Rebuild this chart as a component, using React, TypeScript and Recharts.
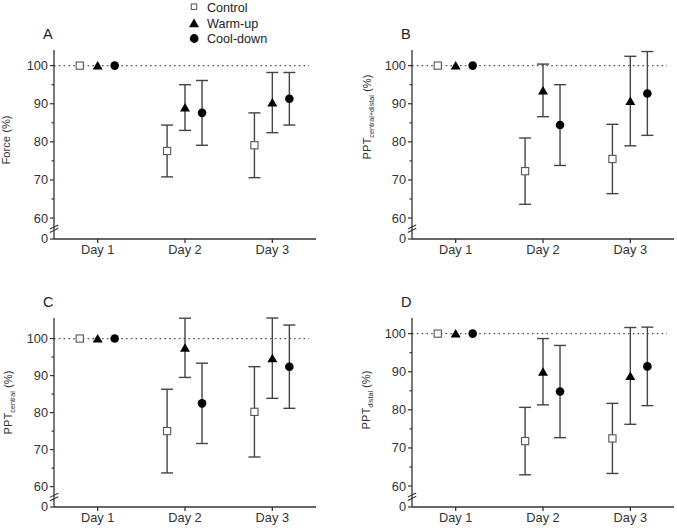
import React from 'react';
import { ScatterChart, Scatter, XAxis, YAxis, ErrorBar, ReferenceLine } from 'recharts';

// ---- categories & ticks ----
const days = [1, 2, 3];
const dayLabels = ['Day 1', 'Day 2', 'Day 3'];
const yTickValues = [54.5, 60, 65, 70, 75, 80, 85, 90, 95, 100];
const yTickLabels = ['0', '60', '', '70', '', '80', '', '90', '', '100'];
const seriesNames = ['Control', 'Warm-up', 'Cool-down'];

// ---- Panel A: Force (%) ----
const forceControl = [100, 77.6, 79.1];
const forceControlSd = [null, 6.8, 8.5];
const forceWarmup = [100, 89.0, 90.3];
const forceWarmupSd = [null, 6.0, 7.9];
const forceCooldown = [100, 87.6, 91.3];
const forceCooldownSd = [null, 8.5, 6.9];

// ---- Panel B: PPT central+distal (%) ----
const pptCdControl = [100, 72.3, 75.5];
const pptCdControlSd = [null, 8.7, 9.1];
const pptCdWarmup = [100, 93.5, 90.7];
const pptCdWarmupSd = [null, 6.9, 11.75];
const pptCdCooldown = [100, 84.4, 92.7];
const pptCdCooldownSd = [null, 10.6, 11.0];

// ---- Panel C: PPT central (%) ----
const pptCenControl = [100, 75.0, 80.2];
const pptCenControlSd = [null, 11.3, 12.2];
const pptCenWarmup = [100, 97.5, 94.7];
const pptCenWarmupSd = [null, 8.0, 10.85];
const pptCenCooldown = [100, 82.5, 92.4];
const pptCenCooldownSd = [null, 10.85, 11.25];

// ---- Panel D: PPT distal (%) ----
const pptDisControl = [100, 71.8, 72.5];
const pptDisControlSd = [null, 8.85, 9.2];
const pptDisWarmup = [100, 90.0, 88.9];
const pptDisWarmupSd = [null, 8.7, 12.7];
const pptDisCooldown = [100, 84.8, 91.4];
const pptDisCooldownSd = [null, 12.1, 10.3];

const FONT = '"Liberation Sans", Arial, sans-serif';
const AXIS = '#333';
const ERR = '#444';
const OFFSETS = [-0.205, 0, 0.195];
const TICK_SIZE = 4;
const TICK_MARGIN = 2;

const build = (means: number[], sds: (number | null)[], off: number) =>
  days.map((d, i) => ({ x: d + off, y: means[i], err: sds[i] }));

const SquareShape = (p: any) => (
  <rect x={p.cx - 3.6} y={p.cy - 3.6} width={7.2} height={7.2} fill="#fff" stroke="#555" strokeWidth={1.1} />
);
const TriShape = (p: any) => (
  <polygon points={`${p.cx},${p.cy - 4.5} ${p.cx + 5},${p.cy + 4} ${p.cx - 5},${p.cy + 4}`} fill="#000" />
);
const DotShape = (p: any) => <circle cx={p.cx} cy={p.cy} r={4.3} fill="#000" />;
const shapes = [SquareShape, TriShape, DotShape];

const YTick = (props: any) => {
  const { x, y, payload } = props;
  const idx = yTickValues.indexOf(payload.value);
  const label = yTickLabels[idx] ?? '';
  const axisX = x + TICK_MARGIN + TICK_SIZE;
  const len = label === '' ? 2.5 : TICK_SIZE;
  return (
    <g>
      <line x1={axisX - len} x2={axisX} y1={y} y2={y} stroke={AXIS} strokeWidth={1.2} />
      {label !== '' && (
        <text x={x} y={y} dy="0.35em" textAnchor="end" fontSize={12.8} fill="#333" fontFamily={FONT}>
          {label}
        </text>
      )}
    </g>
  );
};

type PanelProps = {
  left: number;
  top: number;
  letter: string;
  label: React.ReactNode;
  labelX: number;
  labelY: number;
  series: { means: number[]; sds: (number | null)[] }[];
};

const Panel = ({ left, top, letter, label, labelX, labelY, series }: PanelProps) => (
  <div style={{ position: 'absolute', left, top, width: 338, height: 265 }}>
    <ScatterChart width={338} height={265} margin={{ top: 50, right: 22, bottom: 0, left: 0 }}>
      <XAxis
        type="number"
        dataKey="x"
        domain={[() => 0.5, () => 3.5]}
        ticks={days}
        tickFormatter={(v: number) => dayLabels[Math.round(v) - 1] ?? ''}
        height={26}
        tickSize={TICK_SIZE}
        tickMargin={2}
        stroke={AXIS}
        strokeWidth={1.3}
        tick={{ fontSize: 12.8, fill: '#333', fontFamily: FONT }}
      />
      <YAxis
        type="number"
        dataKey="y"
        domain={[() => 54.5, () => 104.1]}
        ticks={yTickValues}
        interval={0}
        width={54}
        tickSize={TICK_SIZE}
        tickMargin={TICK_MARGIN}
        tickLine={false}
        stroke={AXIS}
        strokeWidth={1.3}
        tick={<YTick />}
      />
      <ReferenceLine
        segment={[{ x: 0.5, y: 100 }, { x: 3.42, y: 100 }]}
        stroke="#555"
        strokeWidth={1.3}
        strokeDasharray="1.6 3.2"
        ifOverflow="visible"
      />
      <ReferenceLine
        segment={[{ x: 0.452, y: 56.2 }, { x: 0.548, y: 57.3 }]}
        stroke={AXIS}
        strokeWidth={1.1}
        ifOverflow="visible"
      />
      <ReferenceLine
        segment={[{ x: 0.452, y: 57.1 }, { x: 0.548, y: 58.2 }]}
        stroke={AXIS}
        strokeWidth={1.1}
        ifOverflow="visible"
      />
      {series.map((s, k) => (
        <Scatter
          key={seriesNames[k]}
          name={seriesNames[k]}
          data={build(s.means, s.sds, OFFSETS[k])}
          shape={shapes[k]}
          isAnimationActive={false}
        >
          <ErrorBar dataKey="err" direction="y" width={6} stroke={ERR} strokeWidth={1.4} />
        </Scatter>
      ))}
    </ScatterChart>
    <svg width={338} height={265} style={{ position: 'absolute', left: 0, top: 0, pointerEvents: 'none' }}>
      <text x={43} y={39.3} fontSize={14.5} fill="#222" fontFamily={FONT}>
        {letter}
      </text>
      <text
        transform={`translate(${labelX},${labelY}) rotate(-90)`}
        textAnchor="middle"
        dy="0.35em"
        fontSize={11.2}
        fill="#333"
        fontFamily={FONT}
      >
        {label}
      </text>
    </svg>
  </div>
);

const Sub = ({ main, sub }: { main: string; sub: string }) => (
  <>
    <tspan>{main}</tspan>
    <tspan fontSize={7.2} dy="3">{sub}</tspan>
    <tspan dy="-3"> (%)</tspan>
  </>
);

export default function App() {
  return (
    <div style={{ position: 'absolute', left: 0, top: 0, width: 677, height: 530, overflow: 'hidden', background: '#fff' }}>
      <Panel
        left={0}
        top={0}
        letter="A"
        label="Force (%)"
        labelX={6.5}
        labelY={140}
        series={[
          { means: forceControl, sds: forceControlSd },
          { means: forceWarmup, sds: forceWarmupSd },
          { means: forceCooldown, sds: forceCooldownSd },
        ]}
      />
      <Panel
        left={358}
        top={0}
        letter="B"
        label={<Sub main="PPT" sub="central+distal" />}
        labelX={9.5}
        labelY={117}
        series={[
          { means: pptCdControl, sds: pptCdControlSd },
          { means: pptCdWarmup, sds: pptCdWarmupSd },
          { means: pptCdCooldown, sds: pptCdCooldownSd },
        ]}
      />
      <Panel
        left={0}
        top={268}
        letter="C"
        label={<Sub main="PPT" sub="central" />}
        labelX={8}
        labelY={134.5}
        series={[
          { means: pptCenControl, sds: pptCenControlSd },
          { means: pptCenWarmup, sds: pptCenWarmupSd },
          { means: pptCenCooldown, sds: pptCenCooldownSd },
        ]}
      />
      <Panel
        left={358}
        top={268}
        letter="D"
        label={<Sub main="PPT" sub="distal" />}
        labelX={8}
        labelY={132}
        series={[
          { means: pptDisControl, sds: pptDisControlSd },
          { means: pptDisWarmup, sds: pptDisWarmupSd },
          { means: pptDisCooldown, sds: pptDisCooldownSd },
        ]}
      />
      <svg width={160} height={48} style={{ position: 'absolute', left: 185, top: 0 }}>
        <rect x={6.3} y={4} width={5.4} height={5.4} fill="#fff" stroke="#555" strokeWidth={1} />
        <polygon points="9,18.6 14,27.3 4,27.3" fill="#000" />
        <circle cx={9.2} cy={38.5} r={4.4} fill="#000" />
        {seriesNames.map((n, i) => (
          <text key={n} x={22} y={[7.2, 23.3, 38.6][i]} dy="0.36em" fontSize={12.6} fill="#222" fontFamily={FONT}>
            {n}
          </text>
        ))}
      </svg>
    </div>
  );
}
